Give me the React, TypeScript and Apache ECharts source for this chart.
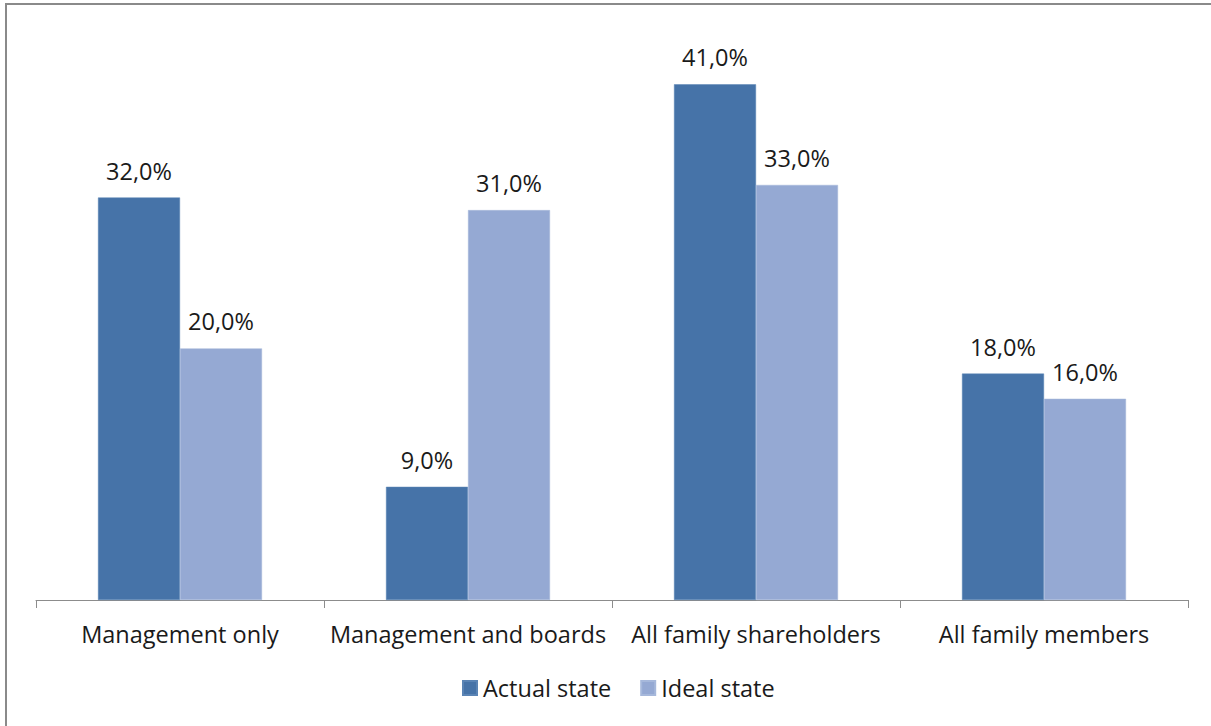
import React, { useEffect, useRef } from "react";
import * as echarts from "echarts";

const categories = ["Management only", "Management and boards", "All family shareholders", "All family members"];
const actualState = [32, 9, 41, 18];
const idealState = [20, 31, 33, 16];
const seriesNames = ["Actual state", "Ideal state"];

const FONT = "Open Sans";
const FS = 23.5;

export default function App() {
  const ref = useRef<HTMLDivElement>(null);
  useEffect(() => {
    const chart = echarts.init(ref.current!, null, { renderer: "svg" });
    const fmt = (p: any) => p.value.toFixed(1).replace(".", ",") + "%";
    chart.setOption({
      animation: false,
      backgroundColor: "#ffffff",
      textStyle: { fontFamily: FONT },
      legend: {
        data: seriesNames,
        bottom: 21,
        left: 457,
        itemWidth: 14,
        itemHeight: 14,
        itemGap: 29,
        icon: "rect",
        textStyle: { fontSize: FS, color: "#1a1a1a", fontFamily: FONT, padding: [0, 0, 0, 1] },
      },
      grid: { left: 36, right: 23, top: 34, bottom: 126 },
      xAxis: {
        type: "category",
        data: categories,
        axisLine: { lineStyle: { color: "#8c8c8c", width: 1 } },
        axisTick: { show: true, interval: 0, length: 8, lineStyle: { color: "#8c8c8c" } },
        axisLabel: { interval: 0, fontSize: FS, color: "#1a1a1a", margin: 22, fontFamily: FONT },
      },
      yAxis: {
        type: "value",
        min: 0,
        max: 45,
        show: false,
        splitLine: { show: false },
      },
      series: [
        {
          name: seriesNames[0],
          type: "bar",
          data: actualState,
          barWidth: 82,
          barGap: "0%",
          itemStyle: { color: "#4673a8", borderColor: "#5a84b5", borderWidth: 0.5 },
          label: { show: true, position: "top", distance: 15, formatter: fmt, fontSize: FS, color: "#1a1a1a", fontFamily: FONT },
        },
        {
          name: seriesNames[1],
          type: "bar",
          data: idealState,
          barWidth: 82,
          barGap: "0%",
          itemStyle: { color: "#95a9d3", borderColor: "#a6b8db", borderWidth: 0.5 },
          label: { show: true, position: "top", distance: 15, formatter: fmt, fontSize: FS, color: "#1a1a1a", fontFamily: FONT },
        },
      ],
    });
    return () => chart.dispose();
  }, []);
  return (
    <div style={{ position: "absolute", left: 0, top: 0, width: 1211, height: 726, overflow: "hidden", background: "#fff" }}>
      <div ref={ref} style={{ position: "absolute", left: 0, top: 0, width: 1211, height: 726 }} />
      <div
        style={{
          position: "absolute",
          left: 5,
          top: 3,
          width: 1300,
          height: 800,
          border: "2px solid #8a8a8a",
          pointerEvents: "none",
        }}
      />
    </div>
  );
}
